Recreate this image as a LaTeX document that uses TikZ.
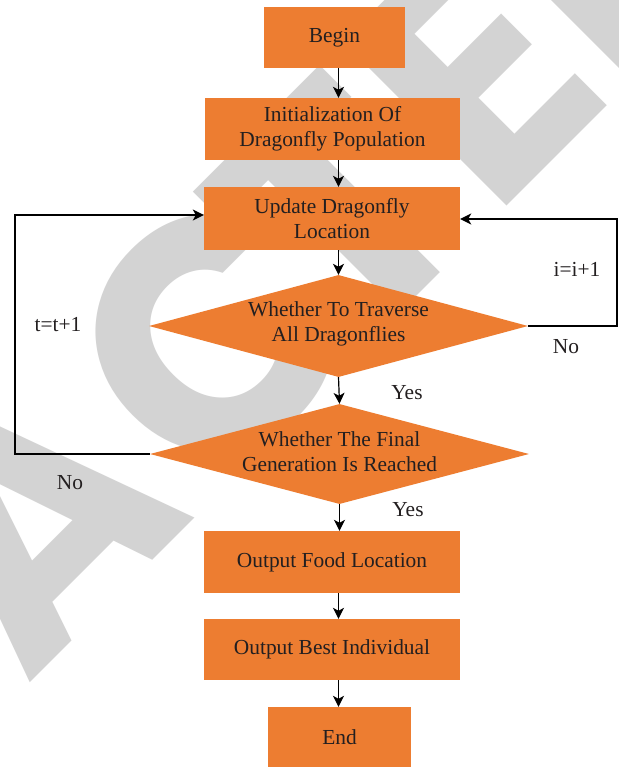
\documentclass[tikz,border=0pt]{standalone}
\usepackage{fontspec}
\setmainfont{Liberation Serif}
\newfontfamily\wmfont{Poppins}
\usetikzlibrary{arrows.meta,shapes.geometric}
\definecolor{boxorange}{HTML}{ED7D31}
\definecolor{txt}{HTML}{231F20}
\definecolor{wm}{HTML}{D3D3D3}
\newcommand{\wl}[1]{\makebox[0pt][c]{#1}}
\begin{document}
\begin{tikzpicture}[x=1pt,y=-1pt,
  lbl/.style={text=txt, inner sep=0, font=\fontsize{21.4}{25}\selectfont},
  box/.style={fill=boxorange, draw=none, inner sep=0, text=txt, align=center, font=\fontsize{21.4}{25}\selectfont},
  dia/.style={diamond, fill=boxorange, draw=none, inner sep=0},
  arr/.style={draw=black, line width=1.2pt, -{Stealth[length=11pt,width=11pt,inset=3pt]}}]
\useasboundingbox (0,0) rectangle (618,767);
\clip (0,0) rectangle (618,767);
\fill[white] (0,0) rectangle (618,767);
% watermark
\node[text=wm, inner sep=0, rotate=45, anchor=base west, font=\wmfont\bfseries\fontsize{330}{330}\selectfont] (wmark) at (-555.6,1268.6)
  {\wl{R}\hspace{230pt}\wl{E}\hspace{220pt}\wl{T}\hspace{240pt}\wl{R}\hspace{254pt}\wl{A}\hspace{261pt}\wl{C}\hspace{175pt}\wl{T}\hspace{192pt}\wl{E}\hspace{207pt}\wl{D}};
% boxes
\node[box, minimum width=141pt, minimum height=61pt] (begin) at (334.5,37.5) {Begin};
\node[box, minimum width=255pt, minimum height=62pt] (init) at (332.5,129) {Initialization Of\\Dragonfly Population};
\node[box, minimum width=256pt, minimum height=63pt] (update) at (332,218.5) {Update Dragonfly\\Location};
\node[dia, minimum width=379pt, minimum height=102pt] (d1) at (338.5,326) {};
\node[lbl, align=center] (d1t) at (338.5,324) {Whether To Traverse\\All Dragonflies};
\node[dia, minimum width=379pt, minimum height=100pt] (d2) at (339.5,454) {};
\node[lbl, align=center] (d2t) at (339.5,452) {Whether The Final\\Generation Is Reached};
\node[box, minimum width=256pt, minimum height=62pt] (food) at (332,562) {Output Food Location};
\node[box, minimum width=256pt, minimum height=61pt] (best) at (332,649.5) {Output Best Individual};
\node[box, minimum width=143pt, minimum height=60pt] (end) at (339.5,737) {End};
% arrows
\coordinate (ax) at (338.5,0);
\draw[arr] (begin.south -| ax) -- (init.north -| ax);
\draw[arr] (init.south -| ax) -- (update.north -| ax);
\draw[arr] (update.south -| ax) -- (d1.north);
\draw[arr] (d1.south) -- (d2.north);
\draw[arr] (d2.south) -- (food.north -| d2.south);
\draw[arr] (food.south -| ax) -- (best.north -| ax);
\draw[arr] (best.south -| ax) -- (end.north -| ax);
% loops
\coordinate (lt) at (15,215);
\coordinate (rt) at (617,219);
\draw[arr] (d2.west) -| (lt) -- (update.west |- lt);
\draw[arr] (d1.east) -| (rt) -- (update.east |- rt);
% labels
\node[lbl] (ii) at (577,269) {i=i+1};
\node[lbl] (no1) at (566,347) {No};
\node[lbl] (tt) at (58,325) {t=t+1};
\node[lbl] (yes1) at (407,393) {Yes};
\node[lbl] (no2) at (70,483) {No};
\node[lbl] (yes2) at (408,510) {Yes};
\end{tikzpicture}
\end{document}
